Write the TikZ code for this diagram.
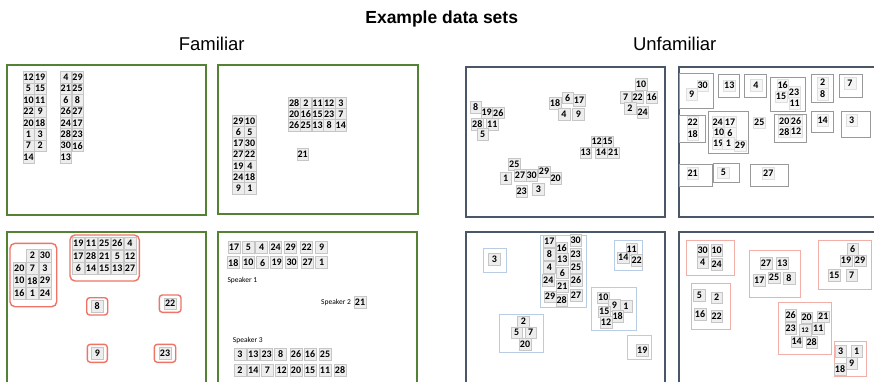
\documentclass[tikz,border=0pt]{standalone}
\usepackage{fontspec}
\setmainfont{Liberation Sans}
\newfontfamily\calibrifont{Carlito}
\definecolor{fgreen}{HTML}{548235}
\definecolor{fslate}{HTML}{4A5768}
\definecolor{gred}{HTML}{EE7466}
\definecolor{gblue}{HTML}{B8CCE4}
\definecolor{gpink}{HTML}{F2AFA8}
\definecolor{ggray}{HTML}{999999}
\begin{document}
\begin{tikzpicture}[x=1pt,y=-1pt,
  cell/.style={draw=gray!45, fill=gray!14, line width=0.5pt, minimum width=11.5pt, minimum height=11.5pt, inner sep=0pt, font=\calibrifont\bfseries\fontsize{10}{10}\selectfont},
  bigcell/.style={cell, minimum width=12.3pt, minimum height=12.3pt},
  greenframe/.style={draw=fgreen, line width=2.2pt},
  slateframe/.style={draw=fslate, line width=2.2pt},
  redgroup/.style={draw=gred, line width=1.4pt, rounded corners=5pt},
  bluegroup/.style={draw=gblue, line width=1pt},
  pinkgroup/.style={draw=gpink, line width=1pt},
  graygroup/.style={draw=ggray, line width=0.8pt},
  speaker/.style={font=\calibrifont\fontsize{7.5}{8}\selectfont, anchor=west, inner sep=0pt},
  heading/.style={anchor=base, inner sep=0pt, font=\fontsize{18.5}{20}\selectfont}
]
\clip (0,0) rectangle (874,381);
\fill[white] (0,0) rectangle (874,381);

% headings
\node[heading, font=\bfseries\fontsize{17.5}{20}\selectfont] (title) at (441.7,23.3) {Example data sets};
\node[heading] (fam) at (211.7,50.7) {Familiar};
\node[heading] (unfam) at (674.7,50.7) {Unfamiliar};

% frames
\draw[greenframe] (7,65) rectangle (206,215);
\draw[greenframe] (218,65) rectangle (418,214);
\draw[slateframe] (466,67) rectangle (665,217);
\draw[slateframe] (679,67) rectangle (884,217);
\draw[greenframe] (7,232) rectangle (206,395);
\draw[greenframe] (218,232) rectangle (417,395);
\draw[slateframe] (466,232) rectangle (665,395);
\draw[slateframe] (679,232) rectangle (884,395);

% panel 1
\foreach \n/\x/\y in {12/28.5/77.3,19/40.2/77.3,5/28.5/88.7,15/40.2/88.7,10/28.5/100.1,11/40.2/100.1,
  22/28.5/111.5,9/40.2/111.5,20/28.5/122.9,18/40.2/122.9,1/28.5/134.3,3/40.2/134.3,7/28.5/145.7,2/40.2/145.7,14/28.5/157.1,
  4/65.8/77.3,29/77.5/77.3,21/65.8/88.7,25/77.5/88.7,6/65.8/100.1,8/77.5/100.1,26/65.8/111.5,27/77.5/111.5,
  24/65.8/122.9,17/77.5/122.9,28/65.8/134.3,23/77.5/134.3,30/65.8/145.7,16/77.5/145.7,13/65.8/157.1}
  \node[cell] (pa-\n) at (\x,\y) {\n};

% panel 2
\foreach \n/\x/\y in {29/238.3/121,10/250/121,6/238.3/132.2,5/250/132.2,17/238.3/143.4,30/250/143.4,
  27/238.3/154.6,22/250/154.6,19/238.3/165.8,4/250/165.8,24/238.3/177,18/250/177,9/238.3/188.2,1/250/188.2,
  28/294.2/103.3,2/305.8/103.3,11/317.5/103.3,12/329.2/103.3,3/340.8/103.3,
  20/294.2/114.3,16/305.8/114.3,15/317.5/114.3,23/329.2/114.3,7/340.8/114.3,
  26/294.2/125.3,25/305.8/125.3,13/317.5/125.3,8/329.2/125.3,14/340.8/125.3,
  21/302.7/154.3}
  \node[cell] (pb-\n) at (\x,\y) {\n};

% panel 3
\foreach \n/\x/\y in {8/475.7/107.3,19/486.7/112.7,26/498.3/112.7,28/477.3/124,11/492.3/124,5/482.7/134,
  18/555/103.3,6/567.7/97.7,17/579/100,4/564/114,9/578.3/114.3,
  10/641/84,7/625.7/97.3,22/637.7/97.3,16/651.7/97.3,2/630/108.3,24/642.7/112.3,
  12/596.7/141.7,15/607.7/141.7,13/585.7/152.7,14/601/152.7,21/613.3/152.7,
  25/514.3/164,1/505.7/178.3,27/520/175,30/531.7/175,29/544/171.7,20/555.7/178.3,23/521.7/191,3/538.3/189}
  \node[cell] (pc-\n) at (\x,\y) {\n};

% panel 4 groups
\foreach \a/\b/\c/\d in {679.3/73.3/713.3/108.3, 718.3/74/739.3/97.3, 744/74/766/97.3, 770.7/77.3/805/111.7,
  811.7/74/833.3/102.3, 839.3/74/862.7/97.3, 679.3/115/705/142.7, 708.3/111.7/748.3/153.3,
  774/114/806/142.7, 811.7/111.7/833.3/132.7, 841.7/111.7/870/137.3, 679.3/164/712.7/186.7,
  713.3/163.3/739.3/182.7, 750.7/164/788.3/186.7}
  \draw[graygroup] (\a,\b) rectangle (\c,\d);
\foreach \n/\x/\y in {30/702.7/85.7,9/691.7/94.3,13/729.3/85.7,4/756/85,16/782.7/85,23/794/92.3,15/781/96.7,11/794.7/103.3,
  2/822.7/82.7,8/822.7/94,7/850/83.3,22/692.7/122.3,18/692.7/134,24/717.7/122.3,17/730/122.3,10/719/132.7,6/730/133.3,
  19/718.3/143.3,1/728.3/143.3,29/740/145.7,25/759.3/122.7,20/784.3/121,26/796/121,28/784.3/131.7,12/796/131.7,
  14/822.7/120,3/851.7/120,21/692.7/173.3,5/723.3/172.7,27/768.3/173.3}
  \node[cell, fill=gray!8, draw=gray!25] (pd-\n) at (\x,\y) {\n};

% panel 5
\draw[redgroup] (10,243.3) rectangle (56.7,306.7);
\draw[redgroup] (70,235) rectangle (139.3,281);
\draw[redgroup, rounded corners=3pt] (86.7,297.7) rectangle (107.7,315);
\draw[redgroup, rounded corners=3pt] (159.3,295) rectangle (181,312.3);
\draw[redgroup, rounded corners=3pt] (87.3,344.3) rectangle (107.3,362.3);
\draw[redgroup, rounded corners=3pt] (154.3,344.3) rectangle (175.7,362.3);
\foreach \n/\x/\y in {2/32.3/255.7,30/45/255.7,20/19.3/268.3,7/32.3/268.3,3/45/268.3,
  10/19.3/280.7,18/32.3/280.7,29/45/280.7,16/19.3/293.3,1/32.3/293.3,24/45/293.3,
  19/78.3/243.3,11/91/243.3,25/104.3/243.3,26/117.3/243.3,4/130/243.3,
  17/78.3/256,28/91/256,21/104.3/256,5/117.3/256,12/130/256,
  6/78.3/268.3,14/91/268.3,15/104.3/268.3,13/117.3/268.3,27/130/268.3}
  \node[bigcell] (pe-\n) at (\x,\y) {\n};
\foreach \n/\x/\y in {8/97.2/306.3,22/170.2/303.7,9/97.3/353.3,23/165/353.3}
  \node[cell] (pe-\n) at (\x,\y) {\n};

% panel 6
\foreach \n/\x/\y in {17/234/247.7,5/248.3/247.7,4/261.7/247.7,24/275.7/247.7,29/290.7/247.7,22/306.7/247.7,9/321.7/247.7,
  18/233.3/262.7,10/248.3/262.7,6/262.7/262.7,19/276.7/262.7,30/291.7/262.7,27/307.7/262.7,1/321.7/262.7,
  21/360/302.3,
  3/240/354,13/253.3/354,23/266.7/354,8/280.7/354,26/296/354,16/310/354,25/325/354,
  2/240/370,14/253.3/370,7/267.3/370,12/281.7/370,20/296/370,15/310/370,11/325/370,28/340/370}
  \node[bigcell, minimum width=12pt, minimum height=12pt] (pf-\n) at (\x,\y) {\n};
\node[speaker] (sp1) at (227.3,280) {Speaker 1};
\node[speaker] (sp2) at (321,302.3) {Speaker 2};
\node[speaker] (sp3) at (232.7,340) {Speaker 3};

% panel 7
\draw[bluegroup] (483.3,248.3) rectangle (506,272.3);
\draw[bluegroup] (540,235.7) rectangle (586,307.7);
\draw[bluegroup] (614.3,240) rectangle (642.5,270);
\draw[bluegroup] (499.3,314.3) rectangle (543.3,352.3);
\draw[bluegroup] (591.7,287.7) rectangle (636.7,330);
\draw[bluegroup] (627.7,335.7) rectangle (651,359.3);
\foreach \n/\x/\y in {3/494.3/259.3,17/549.3/241,16/561.7/247.7,30/575.7/240,8/549.3/254.3,13/562.3/259,23/575.7/254.3,
  4/549.3/267.3,6/562.3/272.7,25/576/267.3,24/548.3/280,21/562.3/286,26/576/280,29/550/296.7,28/561.7/300,27/576/295,
  11/631.7/249,14/623.3/257.7,22/636.7/260,2/523.3/321.7,5/516.7/332.7,7/530.7/332.7,20/525/344,
  10/603.3/297.7,9/614.3/305,1/626/306,15/604.3/311.7,18/617.7/316,12/606/322.3,19/642.3/350}
  \node[cell] (pg-\n) at (\x,\y) {\n};

% panel 8
\draw[pinkgroup] (686.7,240) rectangle (734,275);
\draw[pinkgroup] (749.3,250) rectangle (800.7,297.7);
\draw[pinkgroup] (818.3,240) rectangle (871.7,289);
\draw[pinkgroup] (691,283.3) rectangle (730,329);
\draw[pinkgroup] (778.3,302.7) rectangle (831.7,354.3);
\draw[pinkgroup] (834,341) rectangle (866,376.7);
\foreach \n/\x/\y in {30/702.7/250,10/716.7/250,4/702.7/262.7,24/716.7/264.3,27/766/263.3,13/782.3/263.3,
  17/759.3/280,25/774/277.7,8/789/278.3,6/852.7/249,19/846/260.7,29/860/260.7,15/834.3/275,7/851.7/275,
  5/699.3/295,2/716.7/297.7,16/700/314.3,22/716.7/316,26/790.7/315,20/806.7/317.7,21/823.3/316.7,
  23/790.7/328.3,11/818.3/328.3,14/796.7/341.7,28/811.7/342.3,3/840.7/351,1/856.7/351,9/851.7/363.3,18/840/369}
  \node[cell] (ph-\n) at (\x,\y) {\n};
\node[cell, font=\calibrifont\bfseries\fontsize{7}{8}\selectfont] (ph-12) at (805,330) {12};
\end{tikzpicture}
\end{document}
